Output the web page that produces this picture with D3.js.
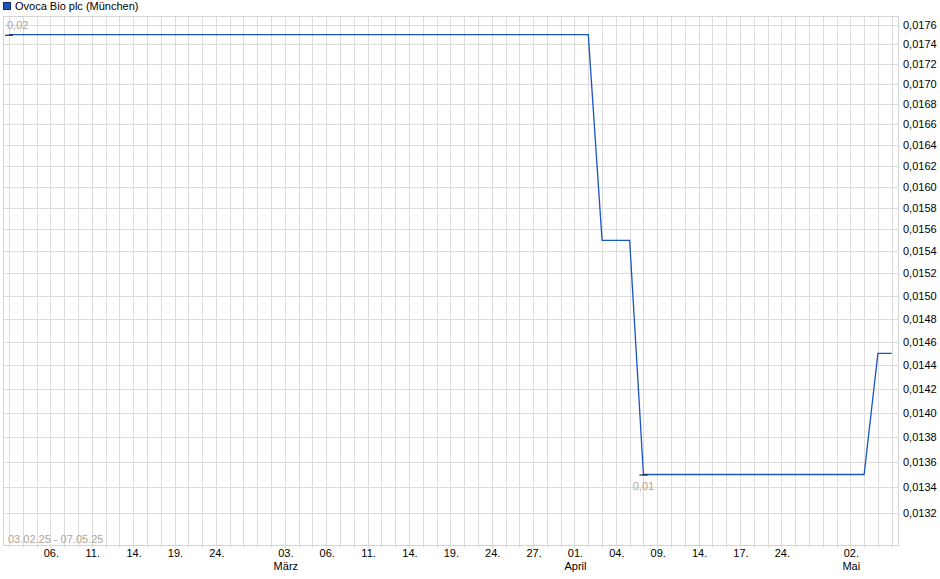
<!DOCTYPE html>
<html>
<head>
<meta charset="utf-8">
<script src="https://cdn.jsdelivr.net/npm/d3@7"></script>
<style>
  body { margin: 0; background: #fff; }
  svg text { font-family: "Liberation Sans", Arial, sans-serif; font-size: 11px; }
</style>
</head>
<body>
<svg id="chart" width="940" height="579"></svg>
<script>
// trading days (Munich exchange) 03.02.25 - 07.05.25
const days = [
  "2025-02-03","2025-02-04","2025-02-05","2025-02-06","2025-02-07","2025-02-10","2025-02-11","2025-02-12","2025-02-13","2025-02-14",
  "2025-02-17","2025-02-18","2025-02-19","2025-02-20","2025-02-21","2025-02-24","2025-02-25","2025-02-26","2025-02-27","2025-02-28",
  "2025-03-03","2025-03-04","2025-03-05","2025-03-06","2025-03-07","2025-03-10","2025-03-11","2025-03-12","2025-03-13","2025-03-14",
  "2025-03-17","2025-03-18","2025-03-19","2025-03-20","2025-03-21","2025-03-24","2025-03-25","2025-03-26","2025-03-27","2025-03-28",
  "2025-03-31","2025-04-01","2025-04-02","2025-04-03","2025-04-04","2025-04-07","2025-04-08","2025-04-09","2025-04-10","2025-04-11",
  "2025-04-14","2025-04-15","2025-04-16","2025-04-17","2025-04-22","2025-04-23","2025-04-24","2025-04-25","2025-04-28","2025-04-29",
  "2025-04-30","2025-05-02","2025-05-05","2025-05-06","2025-05-07"
];
const prices = [
  0.0175,0.0175,0.0175,0.0175,0.0175,0.0175,0.0175,0.0175,0.0175,0.0175,
  0.0175,0.0175,0.0175,0.0175,0.0175,0.0175,0.0175,0.0175,0.0175,0.0175,
  0.0175,0.0175,0.0175,0.0175,0.0175,0.0175,0.0175,0.0175,0.0175,0.0175,
  0.0175,0.0175,0.0175,0.0175,0.0175,0.0175,0.0175,0.0175,0.0175,0.0175,
  0.0175,0.0175,0.0175,0.0155,0.0155,0.0155,0.0135,0.0135,0.0135,0.0135,
  0.0135,0.0135,0.0135,0.0135,0.0135,0.0135,0.0135,0.0135,0.0135,0.0135,
  0.0135,0.0135,0.0135,0.0145,0.0145
];
const tickDays = ["2025-02-06","2025-02-11","2025-02-14","2025-02-19","2025-02-24","2025-03-03","2025-03-06","2025-03-11",
  "2025-03-14","2025-03-19","2025-03-24","2025-03-27","2025-04-01","2025-04-04","2025-04-09","2025-04-14","2025-04-17",
  "2025-04-24","2025-05-02"];
const monthNames = { "2025-03-03": "März", "2025-04-01": "April", "2025-05-02": "Mai" };
const yTicks = d3.range(0.0132, 0.01761, 0.0002).map(v => +v.toFixed(4));
const seriesName = "Ovoca Bio plc (München)";
const rangeText = "03.02.25 - 07.05.25";

const svg = d3.select("#chart");
const plotLeft = 3, plotRight = 898, plotTop = 16, plotBottom = 545;

const x = d3.scalePoint().domain(days).range([9, 891.7]);
const y = d3.scaleLog().domain([0.01295, 0.017694]).range([plotBottom, plotTop]);

const fmt = v => v.toFixed(4).replace(".", ",");

// grid
svg.append("g").selectAll("line.v")
  .data(days).enter().append("line")
  .attr("x1", d => Math.round(x(d)) + 0.5).attr("x2", d => Math.round(x(d)) + 0.5)
  .attr("y1", plotTop).attr("y2", plotBottom + 3)
  .attr("stroke", "#dcdcdc").attr("stroke-width", 1);
svg.append("g").selectAll("line.h")
  .data(yTicks).enter().append("line")
  .attr("x1", plotLeft).attr("x2", plotRight)
  .attr("y1", d => Math.round(y(d)) + 0.5).attr("y2", d => Math.round(y(d)) + 0.5)
  .attr("stroke", "#dcdcdc").attr("stroke-width", 1);

// frame
svg.append("rect")
  .attr("x", plotLeft + 0.5).attr("y", plotTop + 0.5)
  .attr("width", plotRight - plotLeft).attr("height", plotBottom - plotTop)
  .attr("fill", "none").attr("stroke", "#d4d4d4");

// y axis labels (right)
svg.append("g").selectAll("text")
  .data(yTicks).enter().append("text")
  .attr("x", 903).attr("y", d => y(d) + 4)
  .attr("fill", "#000")
  .text(fmt);

// x axis labels
const xl = svg.append("g");
xl.selectAll("text.day")
  .data(tickDays).enter().append("text")
  .attr("x", d => x(d) + 1).attr("y", 557)
  .attr("text-anchor", "middle").attr("fill", "#000")
  .text(d => d.slice(8) + ".");
xl.selectAll("text.month")
  .data(Object.keys(monthNames)).enter().append("text")
  .attr("x", d => x(d) + 1).attr("y", 570)
  .attr("text-anchor", "middle").attr("fill", "#000")
  .text(d => monthNames[d]);

// price line
const data = days.map((d, i) => ({ day: d, price: prices[i] }));
svg.append("path")
  .datum(data)
  .attr("fill", "none")
  .attr("stroke", "#1a55c4")
  .attr("stroke-width", 1.3)
  .attr("d", d3.line().x(d => x(d.day)).y(d => y(d.price)));

// high / low markers
const hi = data[d3.maxIndex(data, d => d.price)];
const lo = data[d3.minIndex(data, d => d.price)];
[hi, lo].forEach(p => {
  svg.append("line")
    .attr("x1", x(p.day) - 4).attr("x2", x(p.day) + 4)
    .attr("y1", y(p.price) + 0.5).attr("y2", y(p.price) + 0.5)
    .attr("stroke", "#000").attr("stroke-width", 1);
});
svg.append("text")
  .attr("x", 7).attr("y", y(hi.price) - 6)
  .attr("fill", "#b0a498")
  .text(hi.price.toFixed(2).replace(".", ","));
svg.append("text")
  .attr("x", x(lo.day)).attr("y", y(lo.price) + 15)
  .attr("text-anchor", "middle")
  .attr("fill", "#b0a498")
  .text(lo.price.toFixed(2).replace(".", ","));

// date range
svg.append("text")
  .attr("x", 8).attr("y", 543)
  .attr("fill", "#b0a498")
  .text(rangeText);

// legend
svg.append("rect")
  .attr("x", 3.5).attr("y", 2.5).attr("width", 7).attr("height", 7)
  .attr("fill", "#1c52bd").attr("stroke", "#0c2b6b");
svg.append("text")
  .attr("x", 15).attr("y", 10)
  .attr("fill", "#000")
  .text(seriesName);
</script>
</body>
</html>
